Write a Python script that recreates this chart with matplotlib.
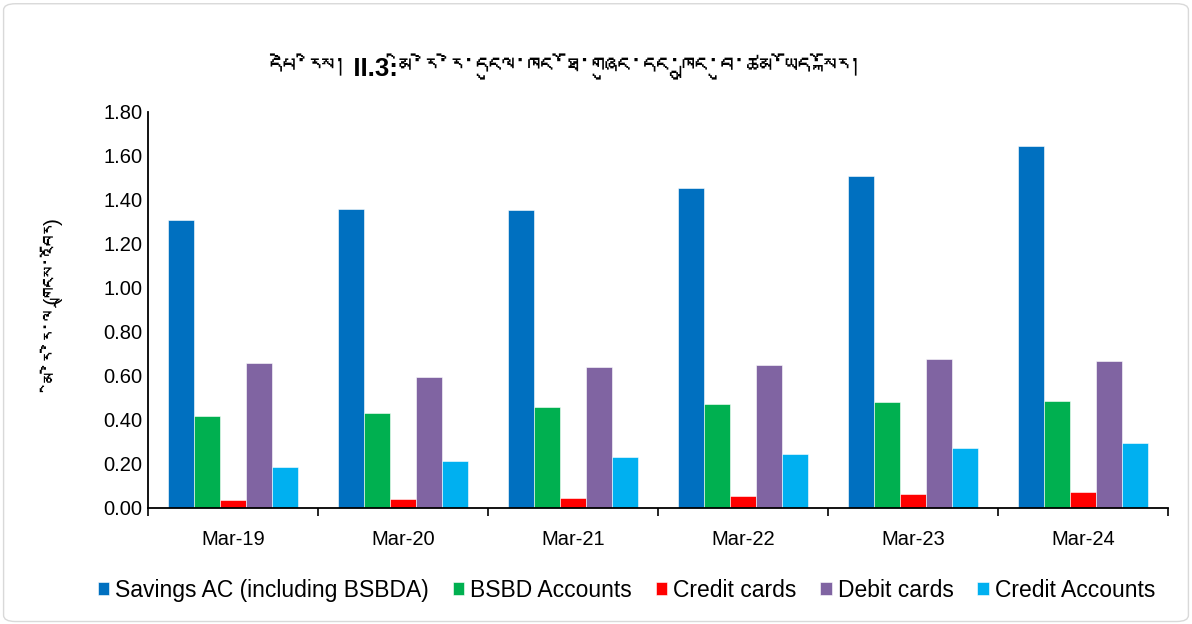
import matplotlib
matplotlib.use("Agg")
import matplotlib.pyplot as plt
import numpy as np
from matplotlib import font_manager
from matplotlib.ft2font import FT2Font
from matplotlib.patches import FancyBboxPatch

# look for any installed font that has Tibetan glyphs
tib_family = None
for f in font_manager.fontManager.ttflist:
    try:
        if 0x0F40 in FT2Font(f.fname).get_charmap():
            tib_family = f.name
            break
    except Exception:
        pass

base = ['Liberation Sans', 'DejaVu Sans']
fam = base + ([tib_family] if tib_family else [])
plt.rcParams['font.family'] = base

# --- data ---
years = ['Mar-19', 'Mar-20', 'Mar-21', 'Mar-22', 'Mar-23', 'Mar-24']
savings = [1.31, 1.36, 1.355, 1.455, 1.51, 1.645]
bsbd = [0.418, 0.432, 0.46, 0.474, 0.481, 0.486]
credit_cards = [0.035, 0.042, 0.046, 0.053, 0.062, 0.072]
debit_cards = [0.659, 0.596, 0.64, 0.65, 0.677, 0.667]
credit_acc = [0.187, 0.214, 0.232, 0.245, 0.272, 0.296]

series = [savings, bsbd, credit_cards, debit_cards, credit_acc]
labels = ['Savings AC (including BSBDA)', 'BSBD Accounts', 'Credit cards',
          'Debit cards', 'Credit Accounts']
colors = ['#0070C0', '#00B050', '#FF0000', '#8064A2', '#00B0F0']

title = 'དཔེ་རིས། II.3:མི་རེ་རེ་དངུལ་ཁང་ཐོ་གཞུང་དང་ཁྲུང་བུ་ཚམ་ཡོད་སྐོར།'
ylabel = 'མི་རེ་རེ་ལ (གྲངས་འབོར)'

fig = plt.figure(figsize=(11.92, 6.24), dpi=100)
fig.patches.append(FancyBboxPatch((0.003, 0.004), 0.994, 0.99,
                                  boxstyle='round,pad=0,rounding_size=0.01',
                                  transform=fig.transFigure, fill=False,
                                  edgecolor='#d9d9d9', linewidth=1))
ax = fig.add_axes([0.124, 0.186, 0.856, 0.635])

x = np.arange(len(years))
w = 0.153
for i, (vals, lab, c) in enumerate(zip(series, labels, colors)):
    ax.bar(x + (i - 2) * w, vals, w, color=c, label=lab,
           edgecolor='white', linewidth=0.4)

ax.set_xlim(-0.5, len(years) - 0.5)
ax.set_ylim(0, 1.8)
ax.set_yticks(np.arange(0, 1.81, 0.2))
ax.set_yticklabels([f'{v:.2f}' for v in np.arange(0, 1.81, 0.2)], fontsize=14.5)
ax.set_xticks(x)
ax.set_xticklabels(years, fontsize=14.5)
ax.set_xticks(np.arange(-0.5, len(years), 1), minor=True)
ax.tick_params(axis='x', which='major', length=0, pad=16)
ax.tick_params(axis='x', which='minor', length=6, width=1.2, color='black')
ax.tick_params(axis='y', length=0, pad=4)
for s in ['top', 'right']:
    ax.spines[s].set_visible(False)
ax.spines['left'].set_linewidth(1.3)
ax.spines['bottom'].set_linewidth(1.3)

ax.set_ylabel(ylabel, fontsize=15, family=fam, labelpad=22)
fig.text(0.474, 0.89, title, fontsize=18.5, fontweight='bold', ha='center',
         va='center', family=fam)

ax.legend(loc='center', bbox_to_anchor=(0.469, -0.208), ncol=5,
          frameon=False, fontsize=16.5, handlelength=0.5, handleheight=0.5,
          handletextpad=0.25, columnspacing=1.05)

fig.savefig('out.png', dpi=100)
